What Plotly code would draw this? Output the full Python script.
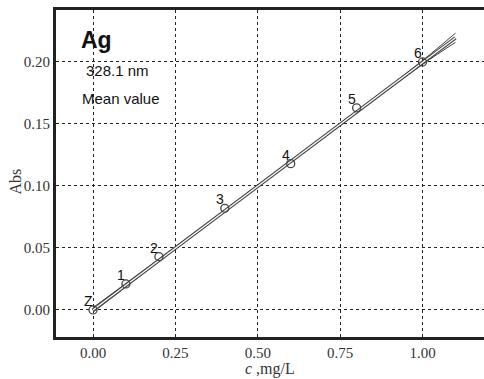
import plotly.graph_objects as go

# Calibration points
conc = [0.0, 0.1, 0.2, 0.4, 0.6, 0.8, 1.0]
absorb = [0.0, 0.021, 0.043, 0.082, 0.118, 0.163, 0.200]
labels = ["Z", "1", "2", "3", "4", "5", "6"]

# Regression line and confidence band
fit_x = [0.0, 1.10]
fit_y = [0.0, 0.2195]
band_x = [0.0, 0.25, 0.5, 0.75, 1.0, 1.10]
band_up = [0.0018, 0.0508, 0.1001, 0.1500, 0.2012, 0.2232]
band_lo = [-0.0018, 0.0490, 0.0995, 0.1490, 0.1980, 0.2158]

x_ticks = [0.0, 0.25, 0.5, 0.75, 1.0]
x_ticktext = ["0.00", "0.25", "0.50", "0.75", "1.00"]
y_ticks = [0.0, 0.05, 0.10, 0.15, 0.20]
y_ticktext = ["0.00", "0.05", "0.10", "0.15", "0.20"]

line_col = "#444444"
fig = go.Figure()

fig.add_trace(go.Scatter(x=band_x, y=band_up, mode="lines", line=dict(color=line_col, width=1, shape="spline"), hoverinfo="skip"))
fig.add_trace(go.Scatter(x=band_x, y=band_lo, mode="lines", line=dict(color=line_col, width=1, shape="spline"), hoverinfo="skip"))
fig.add_trace(go.Scatter(x=fit_x, y=fit_y, mode="lines", line=dict(color=line_col, width=3.5), hoverinfo="skip"))
fig.add_trace(go.Scatter(x=fit_x, y=fit_y, mode="lines", line=dict(color="white", width=1.3), hoverinfo="skip"))

fig.add_trace(go.Scatter(
    x=conc, y=absorb, mode="markers", hoverinfo="skip",
    marker=dict(symbol="circle-open", size=8, color=line_col, line=dict(width=1.3, color=line_col)),
))

for xv, yv, t in zip(conc, absorb, labels):
    fig.add_annotation(x=xv, y=yv, text=t, showarrow=False, xanchor="center", yanchor="middle",
                       xshift=-5, yshift=9, font=dict(family="Liberation Sans", size=14, color="#111"))

fig.add_annotation(x=0.0, y=0.218, xref="x", yref="y", text="<b>Ag</b>", showarrow=False,
                   xanchor="left", yanchor="middle", xshift=-14,
                   font=dict(family="Liberation Sans", size=23, color="#111"))
fig.add_annotation(x=0.0, y=0.1935, xref="x", yref="y", text="328.1 nm", showarrow=False,
                   xanchor="left", yanchor="middle", xshift=-9,
                   font=dict(family="Liberation Sans", size=15, color="#111"))
fig.add_annotation(x=0.0, y=0.1705, xref="x", yref="y", text="Mean value", showarrow=False,
                   xanchor="left", yanchor="middle", xshift=-13,
                   font=dict(family="Liberation Sans", size=15, color="#111"))

serif = dict(family="Liberation Serif", size=15, color="#333")
title_font = dict(family="Liberation Serif", size=16, color="#333")

# axis titles as annotations for exact placement
fig.add_annotation(x=0.5, y=0, xref="paper", yref="paper", text="<i>c</i> ,mg/L", showarrow=False,
                   xanchor="center", yanchor="top", yshift=-21, font=title_font)
fig.add_annotation(x=0, y=0.5, xref="paper", yref="paper", text="Abs", showarrow=False, textangle=-90,
                   xanchor="center", yanchor="middle", xshift=-41, yshift=-8, font=title_font)

fig.update_layout(
    width=484, height=379,
    margin=dict(l=56, r=0, t=10, b=42),
    paper_bgcolor="white", plot_bgcolor="white",
    showlegend=False,
    hovermode=False,
    xaxis=dict(
        range=[-0.1123, 1.1866], tickvals=x_ticks, ticktext=x_ticktext,
        showgrid=True, gridcolor="#222", griddash="dot", gridwidth=1,
        zeroline=False, showline=True, linecolor="#222", linewidth=3, mirror=True,
        ticks="", tickfont=serif, automargin=False,
    ),
    yaxis=dict(
        range=[-0.0218, 0.2419], tickvals=y_ticks, ticktext=y_ticktext,
        showgrid=True, gridcolor="#222", griddash="dot", gridwidth=1,
        zeroline=False, showline=True, linecolor="#222", linewidth=3, mirror=False,
        ticks="", tickfont=serif, automargin=False,
    ),
)

fig.write_html("out.html", config={"displayModeBar": False},
               post_script="document.body.style.margin='0px';document.body.style.overflow='hidden';")
